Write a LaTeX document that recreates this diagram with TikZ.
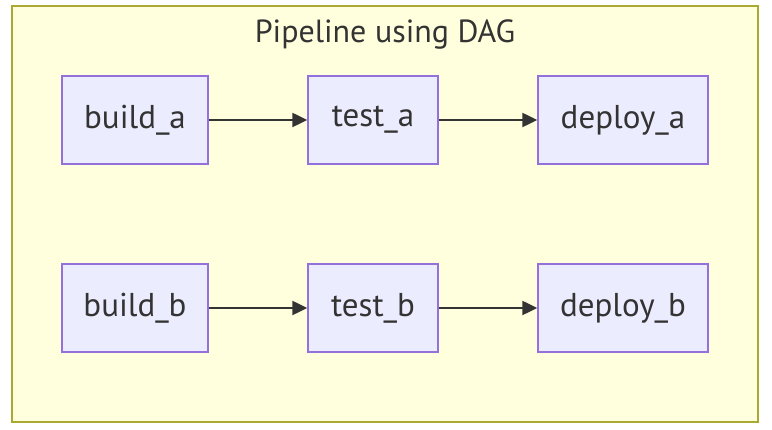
\documentclass[tikz,border=0pt]{standalone}
\usepackage{fontspec}
\setmainfont{PT Sans}
\usetikzlibrary{arrows.meta}
\definecolor{nodefill}{HTML}{ECECFF}
\definecolor{nodeline}{HTML}{9370DB}
\definecolor{clusterfill}{HTML}{FFFFDE}
\definecolor{clusterline}{HTML}{AAAA33}
\definecolor{ink}{HTML}{333333}
\tikzset{
  jobbox/.style={draw=nodeline, fill=nodefill, line width=1.5pt, minimum height=88pt, inner sep=0pt, text=ink, font=\fontsize{33}{40}\selectfont},
  flow/.style={draw=ink, line width=2.5pt, -{Triangle[length=15pt,width=14pt]}},
}
\begin{document}
\begin{tikzpicture}[x=1pt,y=-1pt]
\useasboundingbox (0,0) rectangle (772,430);
\draw[draw=clusterline, fill=clusterfill, line width=2pt] (12,6) rectangle (758,422);
\node[text=ink, font=\fontsize{32}{38}\selectfont, anchor=base] (title) at (385,43) {Pipeline using DAG};
\node[jobbox, minimum width=146pt] (ba) at (135,120) {build\_a};
\node[jobbox, minimum width=130pt] (ta) at (373,120) {test\_a};
\node[jobbox, minimum width=170pt] (da) at (623,120) {deploy\_a};
\node[jobbox, minimum width=146pt] (bb) at (135,308) {build\_b};
\node[jobbox, minimum width=130pt] (tb) at (373,308) {test\_b};
\node[jobbox, minimum width=170pt] (db) at (623,308) {deploy\_b};
\draw[flow] (ba) -- (ta);
\draw[flow] (ta) -- (da);
\draw[flow] (bb) -- (tb);
\draw[flow] (tb) -- (db);
\end{tikzpicture}
\end{document}
